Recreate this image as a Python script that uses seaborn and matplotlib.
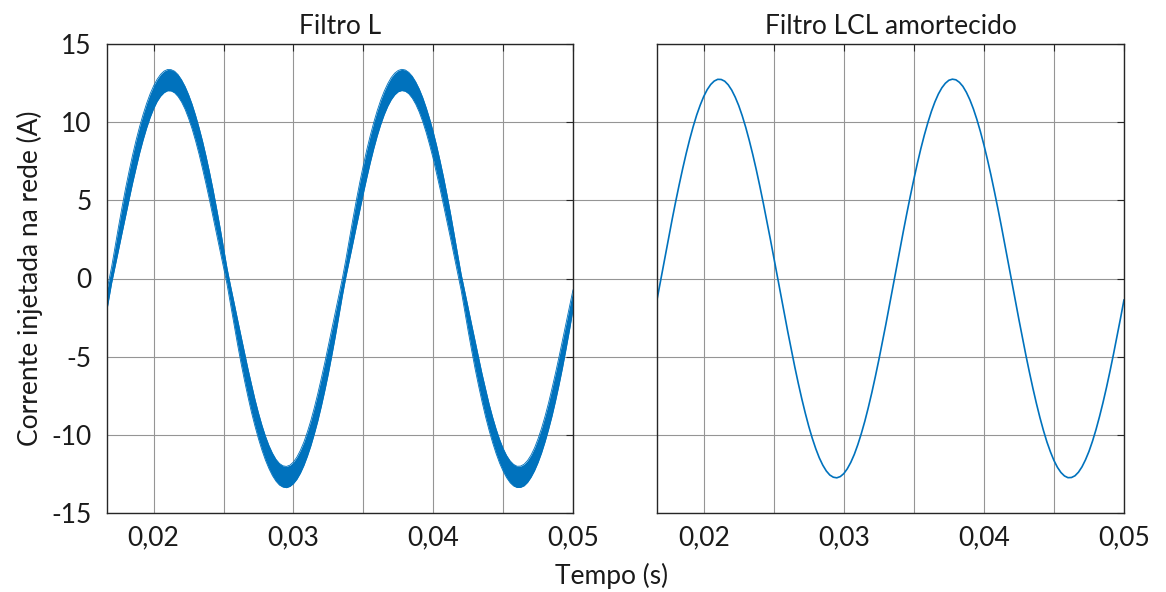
import numpy as np
import pandas as pd
import seaborn as sns
import matplotlib.pyplot as plt

# sample times (s)
tempo = [0.01650, 0.01675, 0.01700, 0.01725, 0.01750, 0.01775, 0.01800, 0.01825, 0.01850, 0.01875,
         0.01900, 0.01925, 0.01950, 0.01975, 0.02000, 0.02025, 0.02050, 0.02075, 0.02100, 0.02125,
         0.02150, 0.02175, 0.02200, 0.02225, 0.02250, 0.02275, 0.02300, 0.02325, 0.02350, 0.02375,
         0.02400, 0.02425, 0.02450, 0.02475, 0.02500, 0.02525, 0.02550, 0.02575, 0.02600, 0.02625,
         0.02650, 0.02675, 0.02700, 0.02725, 0.02750, 0.02775, 0.02800, 0.02825, 0.02850, 0.02875,
         0.02900, 0.02925, 0.02950, 0.02975, 0.03000, 0.03025, 0.03050, 0.03075, 0.03100, 0.03125,
         0.03150, 0.03175, 0.03200, 0.03225, 0.03250, 0.03275, 0.03300, 0.03325, 0.03350, 0.03375,
         0.03400, 0.03425, 0.03450, 0.03475, 0.03500, 0.03525, 0.03550, 0.03575, 0.03600, 0.03625,
         0.03650, 0.03675, 0.03700, 0.03725, 0.03750, 0.03775, 0.03800, 0.03825, 0.03850, 0.03875,
         0.03900, 0.03925, 0.03950, 0.03975, 0.04000, 0.04025, 0.04050, 0.04075, 0.04100, 0.04125,
         0.04150, 0.04175, 0.04200, 0.04225, 0.04250, 0.04275, 0.04300, 0.04325, 0.04350, 0.04375,
         0.04400, 0.04425, 0.04450, 0.04475, 0.04500, 0.04525, 0.04550, 0.04575, 0.04600, 0.04625,
         0.04650, 0.04675, 0.04700, 0.04725, 0.04750, 0.04775, 0.04800, 0.04825, 0.04850, 0.04875,
         0.04900, 0.04925, 0.04950, 0.04975, 0.05000]

# Filtro L: upper / lower edge of the ripple band (A)
filtro_l_sup = [-1.43, -0.36, 0.76, 2.07, 3.36, 4.60, 5.79, 6.88, 7.91, 8.86,
                9.72, 10.50, 11.20, 11.81, 12.32, 12.74, 13.06, 13.27, 13.37, 13.36,
                13.26, 13.04, 12.71, 12.29, 11.77, 11.16, 10.45, 9.66, 8.80, 7.84,
                6.81, 5.71, 4.52, 3.29, 1.98, 0.68, -0.44, -1.50, -2.59, -3.66,
                -4.72, -5.77, -6.76, -7.72, -8.59, -9.38, -10.08, -10.68, -11.17, -11.56,
                -11.83, -11.98, -12.02, -11.94, -11.74, -11.42, -10.99, -10.46, -9.81, -9.08,
                -8.25, -7.34, -6.37, -5.36, -4.29, -3.24, -2.16, -1.08, 0.00, 1.20,
                2.51, 3.78, 5.00, 6.16, 7.23, 8.24, 9.15, 9.99, 10.75, 11.42,
                11.99, 12.47, 12.86, 13.14, 13.31, 13.38, 13.34, 13.19, 12.94, 12.58,
                12.13, 11.58, 10.93, 10.20, 9.39, 8.49, 7.50, 6.45, 5.31, 4.11,
                2.85, 1.55, 0.28, -0.79, -1.86, -2.95, -4.01, -5.08, -6.11, -7.08,
                -8.02, -8.86, -9.62, -10.29, -10.86, -11.32, -11.66, -11.89, -12.01, -12.00,
                -11.88, -11.64, -11.29, -10.83, -10.25, -9.58, -8.81, -7.96, -7.02, -6.04,
                -5.01, -3.94, -2.88, -1.79, -0.72]
filtro_l_inf = [-2.85, -1.55, -0.28, 0.79, 1.86, 2.95, 4.01, 5.08, 6.11, 7.08,
                8.02, 8.86, 9.62, 10.29, 10.86, 11.32, 11.66, 11.89, 12.01, 12.00,
                11.88, 11.64, 11.29, 10.83, 10.25, 9.58, 8.81, 7.96, 7.02, 6.04,
                5.01, 3.94, 2.88, 1.79, 0.72, -0.36, -1.64, -2.94, -4.19, -5.40,
                -6.52, -7.57, -8.56, -9.44, -10.25, -10.98, -11.62, -12.16, -12.61, -12.96,
                -13.21, -13.34, -13.38, -13.30, -13.12, -12.84, -12.45, -11.96, -11.37, -10.70,
                -9.93, -9.10, -8.17, -7.16, -6.09, -4.92, -3.70, -2.42, -1.12, 0.08,
                1.15, 2.22, 3.31, 4.36, 5.43, 6.44, 7.41, 8.31, 9.13, 9.86,
                10.49, 11.02, 11.44, 11.75, 11.95, 12.02, 11.98, 11.82, 11.54, 11.15,
                10.65, 10.04, 9.33, 8.53, 7.66, 6.69, 5.70, 4.65, 3.59, 2.52,
                1.43, 0.36, -0.76, -2.07, -3.36, -4.60, -5.79, -6.88, -7.91, -8.86,
                -9.72, -10.50, -11.20, -11.81, -12.32, -12.74, -13.06, -13.27, -13.37, -13.36,
                -13.26, -13.04, -12.71, -12.29, -11.77, -11.16, -10.45, -9.66, -8.80, -7.84,
                -6.81, -5.71, -4.52, -3.29, -1.98]

# Filtro LCL amortecido (A)
filtro_lcl = [-2.15, -0.96, 0.24, 1.44, 2.63, 3.79, 4.92, 6.00, 7.03, 8.00,
              8.90, 9.72, 10.46, 11.09, 11.64, 12.08, 12.41, 12.63, 12.74, 12.73,
              12.62, 12.39, 12.05, 11.60, 11.06, 10.41, 9.67, 8.84, 7.94, 6.97,
              5.93, 4.84, 3.71, 2.55, 1.36, 0.16, -1.04, -2.23, -3.40, -4.54,
              -5.65, -6.70, -7.69, -8.61, -9.46, -10.22, -10.89, -11.47, -11.94, -12.31,
              -12.57, -12.71, -12.75, -12.67, -12.48, -12.17, -11.76, -11.25, -10.63, -9.92,
              -9.13, -8.25, -7.30, -6.28, -5.21, -4.09, -2.94, -1.76, -0.56, 0.64,
              1.84, 3.02, 4.17, 5.28, 6.35, 7.36, 8.31, 9.18, 9.97, 10.68,
              11.29, 11.80, 12.20, 12.49, 12.68, 12.75, 12.71, 12.55, 12.29, 11.91,
              11.43, 10.85, 10.17, 9.40, 8.55, 7.62, 6.63, 5.57, 4.47, 3.33,
              2.15, 0.96, -0.24, -1.44, -2.63, -3.79, -4.92, -6.00, -7.03, -8.00,
              -8.90, -9.72, -10.46, -11.09, -11.64, -12.08, -12.41, -12.63, -12.74, -12.73,
              -12.62, -12.39, -12.05, -11.60, -11.06, -10.41, -9.67, -8.84, -7.94, -6.97,
              -5.93, -4.84, -3.71, -2.55, -1.36]

x_ticks = [0.02, 0.025, 0.03, 0.035, 0.04, 0.045, 0.05]
x_labels = ['0,02', '', '0,03', '', '0,04', '', '0,05']
y_ticks = [-15, -10, -5, 0, 5, 10, 15]
titulos = ['Filtro L', 'Filtro LCL amortecido']

azul = '#0072BD'
grade = '#959595'
eixo = '#262626'

sns.set_style('white')
plt.rcParams['font.family'] = ['Lato', 'DejaVu Sans']
plt.rcParams['axes.unicode_minus'] = False
fs = 19

df_l = pd.DataFrame({'t': tempo, 'sup': filtro_l_sup, 'inf': filtro_l_inf})
df_lcl = pd.DataFrame({'t': tempo, 'i': filtro_lcl})

fig = plt.figure(figsize=(11.66, 5.92), dpi=100)
ax1 = fig.add_axes([107/1166, 1 - 513/592, 466/1166, 469/592])
ax2 = fig.add_axes([657/1166, 1 - 513/592, 467/1166, 469/592])

# left: ripple band
ax1.fill_between(df_l['t'], df_l['inf'], df_l['sup'], color=azul, lw=0, zorder=3)
sns.lineplot(data=df_l, x='t', y='sup', ax=ax1, color=azul, lw=0.6, zorder=3)
sns.lineplot(data=df_l, x='t', y='inf', ax=ax1, color=azul, lw=0.6, zorder=3)

# right: clean current
sns.lineplot(data=df_lcl, x='t', y='i', ax=ax2, color=azul, lw=1.2, zorder=3)

for ax, titulo in zip([ax1, ax2], titulos):
    ax.set_xlim(1/60, 0.05)
    ax.set_ylim(-15, 15)
    ax.set_xticks(x_ticks)
    ax.set_xticklabels(x_labels)
    ax.set_yticks(y_ticks)
    ax.grid(True, color=grade, lw=0.8, zorder=0)
    ax.set_axisbelow(True)
    ax.tick_params(direction='in', top=True, right=True, length=5, width=0.8,
                   color=eixo, labelsize=fs, labelcolor='#1a1a1a')
    ax.tick_params(axis='x', pad=9)
    ax.tick_params(axis='y', pad=11)
    for s in ax.spines.values():
        s.set_color(eixo)
        s.set_linewidth(1.0)
        s.set_zorder(5)
    ax.set_title(titulo, fontsize=fs, pad=7, color='#1a1a1a')
    ax.set_xlabel('')
    ax.set_ylabel('')

ax2.set_yticklabels([])
ax1.set_ylabel('Corrente injetada na rede (A)', fontsize=fs, color='#1a1a1a', labelpad=6)

# grid lines run on across the gap between the panels
gap = (657 - 573) / 466
for y in [-10, -5, 0, 5, 10]:
    ax1.axhline(y, xmin=1, xmax=1 + gap, color=grade, lw=0.8, clip_on=False, zorder=0)

fig.text(612/1166, 1 - 576/592, 'Tempo (s)', fontsize=fs, ha='center', va='center',
         color='#1a1a1a')

fig.savefig('out.png', dpi=100)
